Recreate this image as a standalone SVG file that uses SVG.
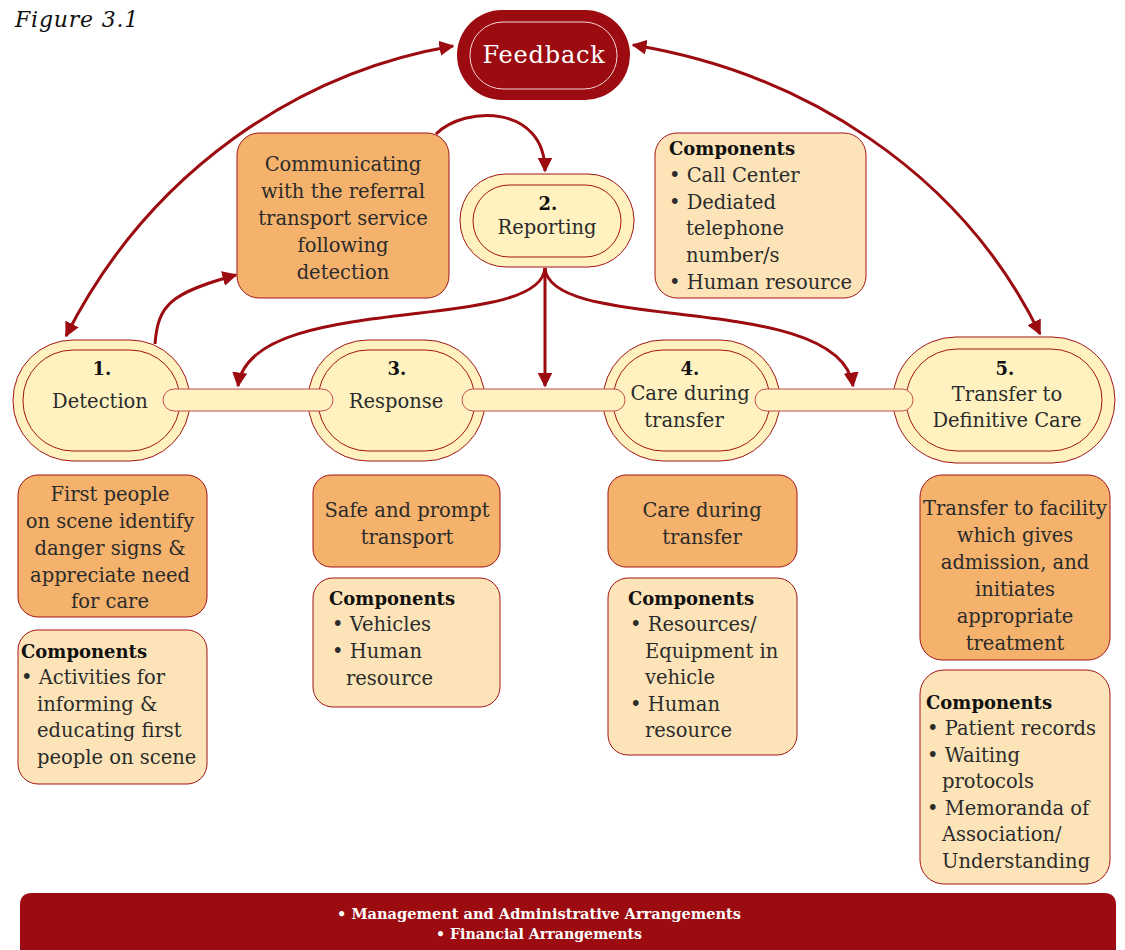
<svg xmlns="http://www.w3.org/2000/svg" width="1125" height="950" viewBox="0 0 1125 950">
  <style>
    .t { font-family: "DejaVu Serif", "Liberation Serif", serif; font-size: 19.5px; fill: #2b2b2b; }
    .c { text-anchor: middle; }
    .b { font-weight: bold; fill: #111; font-size: 18px; }
    .stage-o { fill: #fff2c0; stroke: #a31515; stroke-width: 1; }
    .stage-i { fill: #fff2c0; stroke: #a31515; stroke-width: 1; }
    .task { fill: #f4b26c; stroke: #a31515; stroke-width: 1; }
    .comp { fill: #fde4b8; stroke: #a31515; stroke-width: 1; }
    .bar { fill: #fff2c0; stroke: #c0504d; stroke-width: 1; }
    .arr { fill: none; stroke: #9b0b10; stroke-width: 3; }
    .band { font-family: "DejaVu Serif Condensed", "DejaVu Serif", serif; font-stretch: condensed; font-weight: bold; font-size: 14px; fill: #fff; text-anchor: middle; }
  </style>
  <defs>
    <marker id="ah" viewBox="0 0 10 10" refX="9" refY="5" markerWidth="5" markerHeight="5" orient="auto-start-reverse" markerUnits="strokeWidth">
      <path d="M0,0 L10,5 L0,10 z" fill="#9b0b10"/>
    </marker>
  </defs>

  <text x="15" y="27" font-family="DejaVu Serif, serif" font-style="italic" font-size="22" letter-spacing="0.8" fill="#111">Figure 3.1</text>

  <!-- Feedback -->
  <g id="feedback">
    <rect x="457" y="10" width="173" height="90" rx="45" fill="#9b0b10"/>
    <rect x="470" y="22" width="147" height="67" rx="33" fill="none" stroke="#f3d6d6" stroke-width="1"/>
    <text x="544" y="63" class="t c" style="fill:#fff;font-size:24px;letter-spacing:0.8px">Feedback</text>
  </g>

  <!-- Stage nodes -->
  <g id="stage1">
    <rect class="stage-o" x="13" y="340" width="177" height="121" rx="60"/>
    <rect class="stage-i" x="23" y="350" width="157" height="101" rx="50"/>
    <text x="102" y="375" class="t c b">1.</text>
    <text x="100" y="408" class="t c">Detection</text>
  </g>
  <g id="stage2">
    <rect class="stage-o" x="460" y="174" width="174" height="93" rx="46"/>
    <rect class="stage-i" x="473" y="185" width="148" height="72" rx="36"/>
    <text x="548" y="210" class="t c b">2.</text>
    <text x="547" y="234" class="t c">Reporting</text>
  </g>
  <g id="stage3">
    <rect class="stage-o" x="308" y="340" width="177" height="121" rx="60"/>
    <rect class="stage-i" x="318" y="350" width="157" height="101" rx="50"/>
    <text x="397" y="375" class="t c b">3.</text>
    <text x="396" y="408" class="t c">Response</text>
  </g>
  <g id="stage4">
    <rect class="stage-o" x="603" y="340" width="177" height="121" rx="60"/>
    <rect class="stage-i" x="613" y="350" width="157" height="101" rx="50"/>
    <text x="690" y="375" class="t c b">4.</text>
    <text x="690" y="400" class="t c">Care during</text>
    <text x="684" y="427" class="t c">transfer</text>
  </g>
  <g id="stage5">
    <rect class="stage-o" x="893" y="337" width="222" height="126" rx="63"/>
    <rect class="stage-i" x="906" y="349" width="196" height="102" rx="51"/>
    <text x="1005" y="375" class="t c b">5.</text>
    <text x="1007" y="401" class="t c">Transfer to</text>
    <text x="1007" y="427" class="t c">Definitive Care</text>
  </g>

  <!-- Task boxes -->
  <g id="communicating">
    <rect class="task" x="237" y="133" width="212" height="165" rx="22"/>
    <text class="t c" x="343" y="171">Communicating</text>
    <text class="t c" x="343" y="198">with the referral</text>
    <text class="t c" x="343" y="225">transport service</text>
    <text class="t c" x="343" y="252">following</text>
    <text class="t c" x="343" y="279">detection</text>
  </g>
  <g id="comp2">
    <rect class="comp" x="655" y="133" width="211" height="165" rx="22"/>
    <text class="t b" x="669" y="155">Components</text>
    <text class="t" x="669" y="182">• Call Center</text>
    <text class="t" x="669" y="209">• Dediated</text>
    <text class="t" x="686" y="235">telephone</text>
    <text class="t" x="686" y="262">number/s</text>
    <text class="t" x="669" y="289">• Human resource</text>
  </g>

  <g id="task1">
    <rect class="task" x="18" y="475" width="189" height="142" rx="20"/>
    <text class="t c" x="110" y="501">First people</text>
    <text class="t c" x="110" y="528">on scene identify</text>
    <text class="t c" x="110" y="555">danger signs &amp;</text>
    <text class="t c" x="110" y="582">appreciate need</text>
    <text class="t c" x="110" y="608">for care</text>
  </g>
  <g id="comp1">
    <rect class="comp" x="18" y="630" width="189" height="154" rx="20"/>
    <text class="t b" x="21" y="658">Components</text>
    <text class="t" x="21" y="684">• Activities for</text>
    <text class="t" x="37" y="711">informing &amp;</text>
    <text class="t" x="37" y="737">educating first</text>
    <text class="t" x="37" y="764">people on scene</text>
  </g>

  <g id="task3">
    <rect class="task" x="313" y="475" width="187" height="92" rx="18"/>
    <text class="t c" x="407" y="517">Safe and prompt</text>
    <text class="t c" x="407" y="544">transport</text>
  </g>
  <g id="comp3">
    <rect class="comp" x="313" y="578" width="187" height="129" rx="20"/>
    <text class="t b" x="329" y="605">Components</text>
    <text class="t" x="332" y="631">• Vehicles</text>
    <text class="t" x="332" y="658">• Human</text>
    <text class="t" x="346" y="685">resource</text>
  </g>

  <g id="task4">
    <rect class="task" x="608" y="475" width="189" height="92" rx="18"/>
    <text class="t c" x="702" y="517">Care during</text>
    <text class="t c" x="702" y="544">transfer</text>
  </g>
  <g id="comp4">
    <rect class="comp" x="608" y="578" width="189" height="177" rx="20"/>
    <text class="t b" x="628" y="605">Components</text>
    <text class="t" x="630" y="631">• Resources/</text>
    <text class="t" x="645" y="658">Equipment in</text>
    <text class="t" x="645" y="684">vehicle</text>
    <text class="t" x="630" y="711">• Human</text>
    <text class="t" x="645" y="737">resource</text>
  </g>

  <g id="task5">
    <rect class="task" x="920" y="475" width="190" height="185" rx="22"/>
    <text class="t c" x="1015" y="515">Transfer to facility</text>
    <text class="t c" x="1015" y="542">which gives</text>
    <text class="t c" x="1015" y="569">admission, and</text>
    <text class="t c" x="1015" y="596">initiates</text>
    <text class="t c" x="1015" y="623">appropriate</text>
    <text class="t c" x="1015" y="650">treatment</text>
  </g>
  <g id="comp5">
    <rect class="comp" x="920" y="670" width="190" height="214" rx="24"/>
    <text class="t b" x="926" y="709">Components</text>
    <text class="t" x="927" y="735">• Patient records</text>
    <text class="t" x="927" y="762">• Waiting</text>
    <text class="t" x="942" y="788">protocols</text>
    <text class="t" x="927" y="815">• Memoranda of</text>
    <text class="t" x="942" y="841">Association/</text>
    <text class="t" x="942" y="868">Understanding</text>
  </g>

  <!-- Bottom arrangements band -->
  <g id="arrangements">
    <path d="M20,950 V905 Q20,893 32,893 H1104 Q1116,893 1116,905 V950 Z" fill="#9b0b10"/>
    <text x="539" y="919" class="band" textLength="404" lengthAdjust="spacingAndGlyphs">• Management and Administrative Arrangements</text>
    <text x="539" y="939" class="band" textLength="206" lengthAdjust="spacingAndGlyphs">• Financial Arrangements</text>
  </g>

  <!-- Connectors -->
  <g id="connectors">
    <rect class="bar" x="163" y="389" width="170" height="22" rx="11"/>
    <rect class="bar" x="462" y="389" width="163" height="22" rx="11"/>
    <rect class="bar" x="755" y="389" width="158" height="22" rx="11"/>

    <path class="arr" d="M66,336 C150,170 300,72 453,46" marker-start="url(#ah)" marker-end="url(#ah)"/>
    <path class="arr" d="M633,45 C800,72 960,170 1040,334" marker-start="url(#ah)" marker-end="url(#ah)"/>
    <path class="arr" d="M155,344 C158,305 170,293 236,275" marker-end="url(#ah)"/>
    <path class="arr" d="M436,134 C465,105 545,105 545,171" marker-end="url(#ah)"/>
    <path class="arr" d="M545,268 V386" marker-end="url(#ah)"/>
    <path class="arr" d="M545,268 C540,335 250,290 238,386" marker-end="url(#ah)"/>
    <path class="arr" d="M545,268 C550,335 840,290 853,386" marker-end="url(#ah)"/>
  </g>
</svg>
